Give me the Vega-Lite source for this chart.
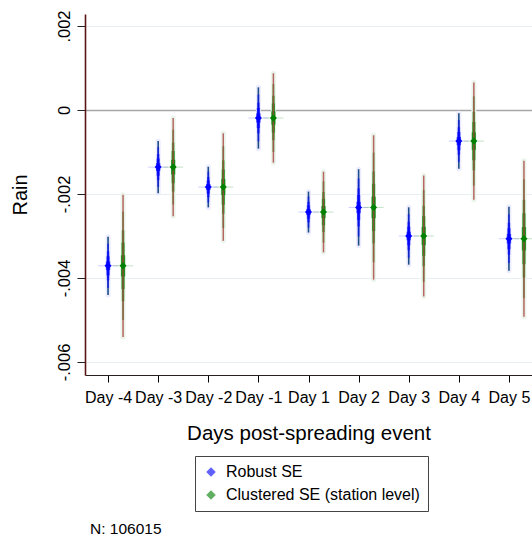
{
  "$schema": "https://vega.github.io/schema/vega-lite/v6.json",
  "width": 447,
  "height": 361,
  "autosize": {"type": "none"},
  "padding": {"left": 85, "top": 14, "right": 0, "bottom": 162},
  "background": "white",
  "config": {
    "font": "Liberation Sans",
    "view": {"stroke": null},
    "axis": {"labelFont": "Liberation Sans", "titleFont": "Liberation Sans", "labelColor": "black", "titleColor": "black", "titleFontWeight": "normal"},
    "legend": {"labelFont": "Liberation Sans"}
  },
  "title": {"text": "N: 106015", "orient": "bottom", "anchor": "start", "frame": "group", "fontSize": 15.5, "fontWeight": "normal", "color": "black", "offset": 10, "dx": 5},
  "data": {"values": [
    {"day": "Day -4", "se": "Robust SE", "b": -0.00371, "lo99": -0.004404, "hi99": -0.003016, "lo95": -0.004238, "hi95": -0.003182, "lo80": -0.004056, "hi80": -0.003364, "lo60": -0.003937, "hi60": -0.003483, "lo30": -0.003813, "hi30": -0.003607},
    {"day": "Day -3", "se": "Robust SE", "b": -0.00136, "lo99": -0.001983, "hi99": -0.000738, "lo95": -0.001834, "hi95": -0.000886, "lo80": -0.00167, "hi80": -0.00105, "lo60": -0.001564, "hi60": -0.001156, "lo30": -0.001453, "hi30": -0.001267},
    {"day": "Day -2", "se": "Robust SE", "b": -0.001835, "lo99": -0.002319, "hi99": -0.001351, "lo95": -0.002203, "hi95": -0.001467, "lo80": -0.002076, "hi80": -0.001594, "lo60": -0.001993, "hi60": -0.001677, "lo30": -0.001907, "hi30": -0.001763},
    {"day": "Day -1", "se": "Robust SE", "b": -0.00019, "lo99": -0.00092, "hi99": 0.00054, "lo95": -0.000746, "hi95": 0.000366, "lo80": -0.000554, "hi80": 0.000174, "lo60": -0.000429, "hi60": 0.000049, "lo30": -0.000299, "hi30": -0.000081},
    {"day": "Day 1", "se": "Robust SE", "b": -0.00243, "lo99": -0.002918, "hi99": -0.001942, "lo95": -0.002801, "hi95": -0.002059, "lo80": -0.002673, "hi80": -0.002187, "lo60": -0.00259, "hi60": -0.00227, "lo30": -0.002503, "hi30": -0.002357},
    {"day": "Day 2", "se": "Robust SE", "b": -0.00232, "lo99": -0.00323, "hi99": -0.00141, "lo95": -0.003013, "hi95": -0.001627, "lo80": -0.002773, "hi80": -0.001867, "lo60": -0.002618, "hi60": -0.002022, "lo30": -0.002456, "hi30": -0.002184},
    {"day": "Day 3", "se": "Robust SE", "b": -0.003, "lo99": -0.003683, "hi99": -0.002317, "lo95": -0.00352, "hi95": -0.00248, "lo80": -0.00334, "hi80": -0.00266, "lo60": -0.003223, "hi60": -0.002777, "lo30": -0.003102, "hi30": -0.002898},
    {"day": "Day 4", "se": "Robust SE", "b": -0.00074, "lo99": -0.0014, "hi99": -0.00008, "lo95": -0.001242, "hi95": -0.000238, "lo80": -0.001069, "hi80": -0.000411, "lo60": -0.000956, "hi60": -0.000524, "lo30": -0.000838, "hi30": -0.000642},
    {"day": "Day 5", "se": "Robust SE", "b": -0.003065, "lo99": -0.003827, "hi99": -0.002303, "lo95": -0.003645, "hi95": -0.002485, "lo80": -0.003444, "hi80": -0.002686, "lo60": -0.003314, "hi60": -0.002816, "lo30": -0.003179, "hi30": -0.002951},
    {"day": "Day -4", "se": "Clustered SE (station level)", "b": -0.00371, "lo99": -0.005404, "hi99": -0.002016, "lo95": -0.004999, "hi95": -0.002421, "lo80": -0.004554, "hi80": -0.002866, "lo60": -0.004264, "hi60": -0.003156, "lo30": -0.003962, "hi30": -0.003458},
    {"day": "Day -3", "se": "Clustered SE (station level)", "b": -0.00136, "lo99": -0.00253, "hi99": -0.00019, "lo95": -0.00225, "hi95": -0.00047, "lo80": -0.001943, "hi80": -0.000777, "lo60": -0.001743, "hi60": -0.000977, "lo30": -0.001534, "hi30": -0.001186},
    {"day": "Day -2", "se": "Clustered SE (station level)", "b": -0.001835, "lo99": -0.003115, "hi99": -0.000555, "lo95": -0.002809, "hi95": -0.000861, "lo80": -0.002472, "hi80": -0.001198, "lo60": -0.002254, "hi60": -0.001416, "lo30": -0.002026, "hi30": -0.001644},
    {"day": "Day -1", "se": "Clustered SE (station level)", "b": -0.00019, "lo99": -0.001255, "hi99": 0.000875, "lo95": -0.001, "hi95": 0.00062, "lo80": -0.00072, "hi80": 0.00034, "lo60": -0.000538, "hi60": 0.000158, "lo30": -0.000349, "hi30": -0.000031},
    {"day": "Day 1", "se": "Clustered SE (station level)", "b": -0.00243, "lo99": -0.00339, "hi99": -0.00147, "lo95": -0.003161, "hi95": -0.001699, "lo80": -0.002908, "hi80": -0.001952, "lo60": -0.002744, "hi60": -0.002116, "lo30": -0.002573, "hi30": -0.002287},
    {"day": "Day 2", "se": "Clustered SE (station level)", "b": -0.00232, "lo99": -0.004038, "hi99": -0.000602, "lo95": -0.003627, "hi95": -0.001013, "lo80": -0.003176, "hi80": -0.001464, "lo60": -0.002882, "hi60": -0.001758, "lo30": -0.002576, "hi30": -0.002064},
    {"day": "Day 3", "se": "Clustered SE (station level)", "b": -0.003, "lo99": -0.00444, "hi99": -0.00156, "lo95": -0.004096, "hi95": -0.001904, "lo80": -0.003717, "hi80": -0.002283, "lo60": -0.003471, "hi60": -0.002529, "lo30": -0.003215, "hi30": -0.002785},
    {"day": "Day 4", "se": "Clustered SE (station level)", "b": -0.00074, "lo99": -0.002137, "hi99": 0.000657, "lo95": -0.001803, "hi95": 0.000323, "lo80": -0.001436, "hi80": -0.000044, "lo60": -0.001197, "hi60": -0.000283, "lo30": -0.000948, "hi30": -0.000532},
    {"day": "Day 5", "se": "Clustered SE (station level)", "b": -0.003065, "lo99": -0.004922, "hi99": -0.001208, "lo95": -0.004478, "hi95": -0.001652, "lo80": -0.00399, "hi80": -0.00214, "lo60": -0.003672, "hi60": -0.002458, "lo30": -0.003342, "hi30": -0.002788}
  ]},
  "encoding": {
    "x": {
      "field": "day", "type": "ordinal",
      "sort": ["Day -4", "Day -3", "Day -2", "Day -1", "Day 1", "Day 2", "Day 3", "Day 4", "Day 5"],
      "scale": {"type": "point", "padding": 0.46},
      "axis": {
        "title": "Days post-spreading event", "titleFontSize": 20.5, "titlePadding": 18,
        "labelAngle": 0, "labelFontSize": 16, "labelPadding": 7,
        "tickSize": 7, "tickColor": "black", "tickWidth": 1,
        "domainColor": "#2a2020", "domainWidth": 1.2, "grid": false
      }
    }
  },
  "layer": [
    {
      "transform": [{"filter": "datum.se == 'Robust SE'"}],
      "mark": {"type": "rule", "strokeWidth": 5, "color": "#ececff", "strokeCap": "round"},
      "encoding": {
        "y": {
          "field": "lo99", "type": "quantitative",
          "scale": {"domain": [-0.00631, 0.002286], "nice": false, "zero": false},
          "axis": {
            "title": "Rain", "titleFontSize": 20, "titlePadding": 26,
            "values": [-0.006, -0.004, -0.002, 0, 0.002],
            "labelExpr": "datum.value == 0 ? '0' : (datum.value < 0 ? '-' : '') + replace(format(abs(datum.value), '.3f'), '0.', '.')",
            "labelAngle": -90, "labelAlign": "center", "labelBaseline": "alphabetic",
            "labelFontSize": 16.5, "labelPadding": 8,
            "tickSize": 8, "tickColor": "#222", "tickWidth": 1,
            "domainColor": "#5c1414", "domainWidth": 1.6,
            "grid": true,
            "gridColor": {"condition": {"test": "datum.value === 0", "value": "#a6a6a6"}, "value": "#e6eff1"},
            "gridWidth": {"condition": {"test": "datum.value === 0", "value": 1.6}, "value": 1}
          }
        },
        "y2": {"field": "hi99"}
      }
    },
    {
      "transform": [{"filter": "datum.se != 'Robust SE'"}],
      "mark": {"type": "rule", "strokeWidth": 5, "color": "#ebf4eb", "strokeCap": "round", "xOffset": 15},
      "encoding": {"y": {"field": "lo99", "type": "quantitative"}, "y2": {"field": "hi99"}}
    },
    {
      "transform": [{"filter": "datum.se == 'Robust SE'"}],
      "mark": {"type": "rule", "strokeWidth": 1.6, "color": "#1d4d86"},
      "encoding": {"y": {"field": "lo99", "type": "quantitative"}, "y2": {"field": "hi99"}}
    },
    {
      "transform": [{"filter": "datum.se == 'Robust SE'"}],
      "mark": {"type": "rule", "strokeWidth": 2, "color": "#0000ff", "opacity": 0.5},
      "encoding": {"y": {"field": "lo95", "type": "quantitative"}, "y2": {"field": "hi95"}}
    },
    {
      "transform": [{"filter": "datum.se == 'Robust SE'"}],
      "mark": {"type": "rule", "strokeWidth": 2.6, "color": "#0000ff", "opacity": 0.55},
      "encoding": {"y": {"field": "lo80", "type": "quantitative"}, "y2": {"field": "hi80"}}
    },
    {
      "transform": [{"filter": "datum.se == 'Robust SE'"}],
      "mark": {"type": "rule", "strokeWidth": 3.3, "color": "#0000ff", "opacity": 0.6},
      "encoding": {"y": {"field": "lo60", "type": "quantitative"}, "y2": {"field": "hi60"}}
    },
    {
      "transform": [{"filter": "datum.se == 'Robust SE'"}],
      "mark": {"type": "rule", "strokeWidth": 4.3, "color": "#0000ff", "opacity": 0.7},
      "encoding": {"y": {"field": "lo30", "type": "quantitative"}, "y2": {"field": "hi30"}}
    },
    {
      "transform": [{"filter": "datum.se == 'Robust SE'"}],
      "mark": {"type": "tick", "size": 20, "thickness": 1, "color": "#6060ff", "opacity": 0.3},
      "encoding": {"y": {"field": "b", "type": "quantitative"}}
    },
    {
      "transform": [{"filter": "datum.se != 'Robust SE'"}],
      "mark": {"type": "rule", "strokeWidth": 2, "color": "#008000", "opacity": 0.5, "xOffset": 15},
      "encoding": {"y": {"field": "lo95", "type": "quantitative"}, "y2": {"field": "hi95"}}
    },
    {
      "transform": [{"filter": "datum.se != 'Robust SE'"}],
      "mark": {"type": "rule", "strokeWidth": 2.6, "color": "#008000", "opacity": 0.55, "xOffset": 15},
      "encoding": {"y": {"field": "lo80", "type": "quantitative"}, "y2": {"field": "hi80"}}
    },
    {
      "transform": [{"filter": "datum.se != 'Robust SE'"}],
      "mark": {"type": "rule", "strokeWidth": 3.3, "color": "#008000", "opacity": 0.6, "xOffset": 15},
      "encoding": {"y": {"field": "lo60", "type": "quantitative"}, "y2": {"field": "hi60"}}
    },
    {
      "transform": [{"filter": "datum.se != 'Robust SE'"}],
      "mark": {"type": "rule", "strokeWidth": 4.3, "color": "#008000", "opacity": 0.7, "xOffset": 15},
      "encoding": {"y": {"field": "lo30", "type": "quantitative"}, "y2": {"field": "hi30"}}
    },
    {
      "transform": [{"filter": "datum.se != 'Robust SE'"}],
      "mark": {"type": "rule", "strokeWidth": 1.5, "color": "#a8423e", "opacity": 0.8, "xOffset": 15},
      "encoding": {"y": {"field": "lo99", "type": "quantitative"}, "y2": {"field": "hi99"}}
    },
    {
      "transform": [{"filter": "datum.se != 'Robust SE'"}],
      "mark": {"type": "tick", "size": 20, "thickness": 1, "color": "#40a040", "opacity": 0.3, "xOffset": 15},
      "encoding": {"y": {"field": "b", "type": "quantitative"}}
    },
    {
      "transform": [{"filter": "datum.se == 'Robust SE'"}],
      "mark": {"type": "point", "shape": "diamond", "filled": true, "size": 50, "opacity": 1, "color": "#0000ff"},
      "encoding": {"y": {"field": "b", "type": "quantitative"}}
    },
    {
      "mark": {"type": "point", "shape": "diamond", "filled": true, "size": 50, "opacity": 1, "xOffset": 15},
      "transform": [{"filter": "datum.se != 'Robust SE'"}],
      "encoding": {
        "y": {"field": "b", "type": "quantitative"},
        "color": {
          "field": "se", "type": "nominal",
          "scale": {"domain": ["Robust SE", "Clustered SE (station level)"], "range": ["#0000ff", "#008000"]},
          "legend": {
            "orient": "none", "legendX": 110, "legendY": 442, "title": null,
            "values": ["Robust SE", "Clustered SE (station level)"],
            "strokeColor": "#444444", "padding": 8,
            "labelFontSize": 16, "labelColor": "black", "labelOffset": 7, "labelLimit": 400,
            "symbolType": "diamond", "symbolSize": 90, "symbolOpacity": 0.62, "symbolStrokeWidth": 0,
            "rowPadding": 7
          }
        }
      }
    }
  ]
}
